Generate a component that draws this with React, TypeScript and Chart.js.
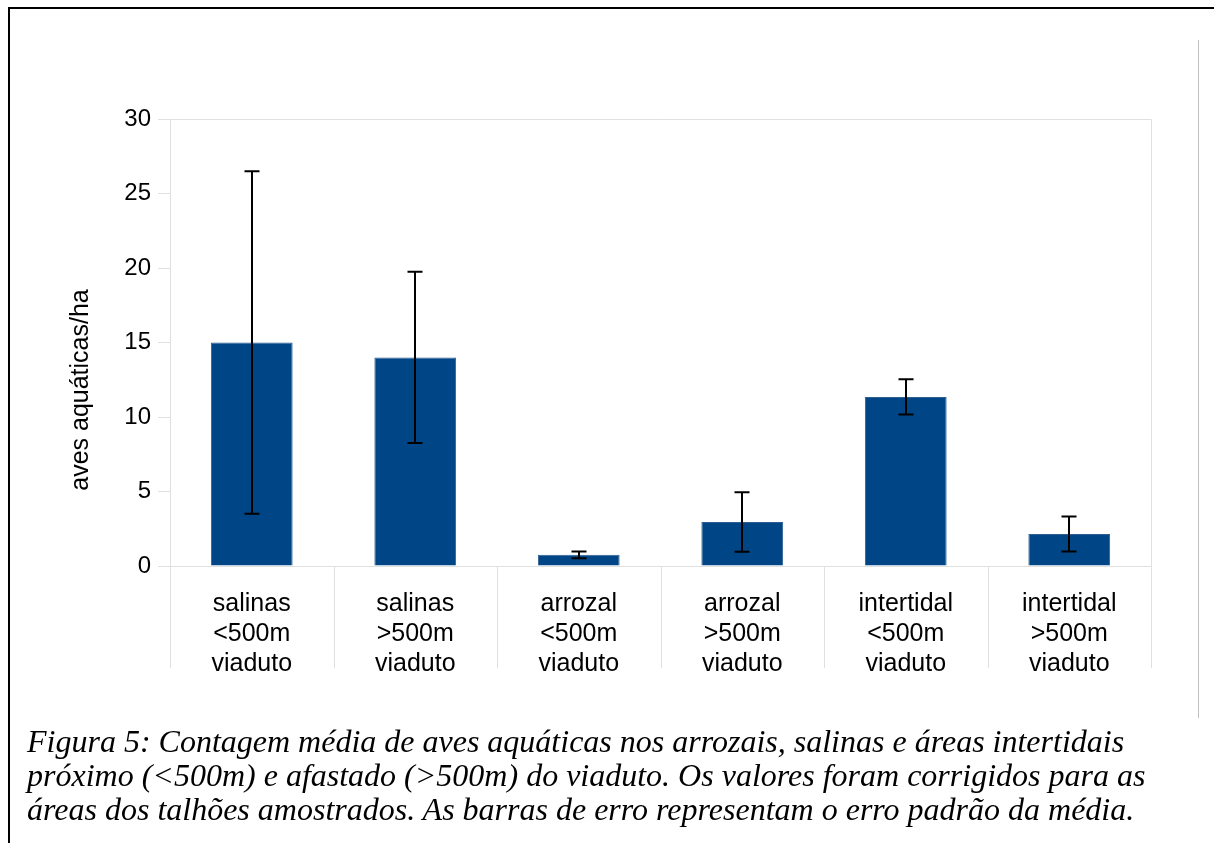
import React, { useEffect, useRef } from "react";
import { Chart, registerables } from "chart.js";

Chart.register(...registerables);

const categories: string[][] = [
  ["salinas", "<500m", "viaduto"],
  ["salinas", ">500m", "viaduto"],
  ["arrozal", "<500m", "viaduto"],
  ["arrozal", ">500m", "viaduto"],
  ["intertidal", "<500m", "viaduto"],
  ["intertidal", ">500m", "viaduto"],
];
const means: number[] = [15, 14, 0.75, 2.95, 11.35, 2.15];
const stdErrors: number[] = [11.5, 5.75, 0.23, 2.0, 1.18, 1.18];
const yTicks: number[] = [0, 5, 10, 15, 20, 25, 30];
const yTitle = "aves aquáticas/ha";
const captionLines: string[] = [
  "Figura 5: Contagem média de aves aquáticas nos arrozais, salinas e áreas intertidais",
  "próximo (<500m) e afastado (>500m) do viaduto. Os valores foram corrigidos para as",
  "áreas dos talhões amostrados. As barras de erro representam o erro padrão da média.",
];

const FONT = "'Liberation Sans', Arial, sans-serif";

const decorPlugin = {
  id: "decor",
  beforeDatasetsDraw(chart: any) {
    const { ctx, chartArea } = chart;
    const { left, right, top, bottom } = chartArea;
    ctx.save();
    ctx.strokeStyle = "#e0e0e0";
    ctx.lineWidth = 1;
    ctx.beginPath();
    ctx.moveTo(left, top + 0.5);
    ctx.lineTo(right + 0.5, top + 0.5);
    ctx.lineTo(right + 0.5, bottom);
    ctx.stroke();
    const n = chart.data.labels.length;
    const step = (right - left) / n;
    ctx.beginPath();
    for (let i = 0; i <= n; i++) {
      const x = Math.round(left + i * step) + 0.5;
      ctx.moveTo(x, bottom);
      ctx.lineTo(x, bottom + 102);
    }
    ctx.stroke();
    ctx.restore();
  },
  afterDatasetsDraw(chart: any) {
    const { ctx } = chart;
    const ys = chart.scales.y;
    const meta = chart.getDatasetMeta(0);
    ctx.save();
    ctx.strokeStyle = "#000000";
    ctx.lineWidth = 2;
    meta.data.forEach((bar: any, i: number) => {
      const v = means[i];
      const e = stdErrors[i];
      const x = Math.round(bar.x);
      const yHi = ys.getPixelForValue(v + e);
      const yLo = ys.getPixelForValue(v - e);
      ctx.beginPath();
      ctx.moveTo(x, yHi);
      ctx.lineTo(x, yLo);
      ctx.moveTo(x - 7.5, yHi);
      ctx.lineTo(x + 7.5, yHi);
      ctx.moveTo(x - 7.5, yLo);
      ctx.lineTo(x + 7.5, yLo);
      ctx.stroke();
    });
    ctx.restore();
    ctx.save();
    ctx.fillStyle = "#000";
    ctx.font = `25px ${FONT}`;
    ctx.translate(81, 390);
    ctx.rotate(-Math.PI / 2);
    ctx.textAlign = "center";
    ctx.textBaseline = "middle";
    ctx.fillText(yTitle, 0, 0);
    ctx.restore();
  },
};

function ChartCanvas() {
  const ref = useRef<HTMLCanvasElement | null>(null);
  useEffect(() => {
    if (!ref.current) return;
    const chart = new Chart(ref.current, {
      type: "bar",
      data: {
        labels: categories,
        datasets: [
          {
            data: means,
            backgroundColor: "#004586",
            borderColor: "#2f5f91",
            borderWidth: 1,
            barPercentage: 0.5,
            categoryPercentage: 1,
          },
        ],
      },
      options: {
        animation: false,
        responsive: false,
        maintainAspectRatio: false,
        layout: { padding: { left: 0, top: 119, right: 63, bottom: 157 } },
        plugins: {
          legend: { display: false },
          tooltip: { enabled: false },
          title: { display: false },
        },
        scales: {
          x: {
            grid: { display: false },
            border: { display: true, color: "#e0e0e0", width: 1 },
            ticks: {
              color: "#000",
              font: { family: FONT, size: 25, lineHeight: 1.2 },
              padding: 15,
              maxRotation: 0,
              autoSkip: false,
            },
            afterFit(scale: any) {
              scale.height = 120;
            },
          },
          y: {
            min: 0,
            max: 30,
            afterBuildTicks(scale: any) {
              scale.ticks = yTicks.map((v) => ({ value: v }));
            },
            grid: {
              drawOnChartArea: false,
              drawTicks: true,
              tickLength: 12,
              color: "#e0e0e0",
            },
            border: { display: true, color: "#e0e0e0", width: 1 },
            ticks: {
              color: "#000",
              font: { family: FONT, size: 24 },
              padding: 7,
            },
            afterFit(scale: any) {
              scale.width = 170;
            },
          },
        },
      },
      plugins: [decorPlugin],
    });
    return () => chart.destroy();
  }, []);
  return (
    <canvas
      ref={ref}
      width={1214}
      height={843}
      style={{ position: "absolute", left: 0, top: 0, width: 1214, height: 843 }}
    />
  );
}

export default function App() {
  return (
    <div
      style={{
        position: "fixed",
        left: 0,
        top: 0,
        width: 1214,
        height: 843,
        background: "#fff",
        overflow: "hidden",
      }}
    >
      <div
        style={{
          position: "absolute",
          left: 8,
          top: 7,
          width: 1214,
          height: 843,
          borderTop: "2px solid #000",
          borderLeft: "2px solid #000",
        }}
      />
      <div
        style={{
          position: "absolute",
          left: 1198,
          top: 40,
          width: 1,
          height: 678,
          background: "#c0c0c0",
        }}
      />
      <ChartCanvas />
      <div
        style={{
          position: "absolute",
          left: 27,
          top: 724,
          fontFamily: "'Liberation Serif', 'Times New Roman', serif",
          fontStyle: "italic",
          fontSize: 32,
          lineHeight: "34px",
          color: "#000",
          whiteSpace: "nowrap",
        }}
      >
        {captionLines.map((l, i) => (
          <div key={i}>{l}</div>
        ))}
      </div>
    </div>
  );
}
